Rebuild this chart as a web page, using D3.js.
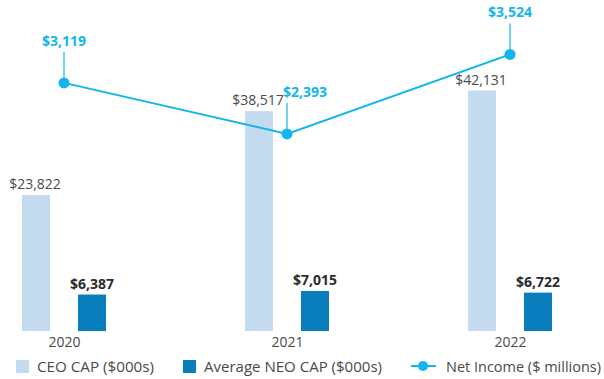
<!DOCTYPE html>
<html>
<head>
<meta charset="utf-8">
<script src="https://cdn.jsdelivr.net/npm/d3@7"></script>
<style>
  body { margin: 0; background: #fff; }
  svg { display: block; font-family: "Open Sans", sans-serif; }
</style>
</head>
<body>
<svg id="chart" width="604" height="379"></svg>
<script>
// Compensation actually paid vs. net income
const years = ["2020", "2021", "2022"];
const ceoCap = [23822, 38517, 42131];      // $000s
const neoCap = [6387, 7015, 6722];         // $000s
const netIncome = [3119, 2393, 3524];      // $ millions
const ceoLabels = ["$23,822", "$38,517", "$42,131"];
const neoLabels = ["$6,387", "$7,015", "$6,722"];
const niLabels = ["$3,119", "$2,393", "$3,524"];
const legendItems = ["CEO CAP ($000s)", "Average NEO CAP ($000s)", "Net Income ($ millions)"];

const colors = { ceo: "#c4dbef", neo: "#0a7dbc", ni: "#13b6ec", text: "#4a4a4a", bold: "#2b2b2b" };

const svg = d3.select("#chart");
const baseline = 331;

// group positions along x
const x = d3.scalePoint().domain(years).range([64, 510]);
// bar heights (compensation) share one scale
const yBar = d3.scaleLinear().domain([0, 50000]).range([baseline, baseline - 285.4]);
// net income on its own scale
const yNi = d3.scaleLinear().domain([0, 4000]).range([302, 21]);

const barW = 28, barOff = 28;

// CEO bars
svg.selectAll("rect.ceo").data(ceoCap).join("rect")
  .attr("class", "ceo")
  .attr("x", (d, i) => x(years[i]) - barOff - barW / 2)
  .attr("y", d => yBar(d))
  .attr("width", barW)
  .attr("height", d => baseline - yBar(d))
  .attr("fill", colors.ceo);

// NEO bars
svg.selectAll("rect.neo").data(neoCap).join("rect")
  .attr("class", "neo")
  .attr("x", (d, i) => x(years[i]) + barOff - barW / 2)
  .attr("y", d => yBar(d))
  .attr("width", barW)
  .attr("height", d => baseline - yBar(d))
  .attr("fill", colors.neo);

// CEO value labels
svg.selectAll("text.ceoLab").data(ceoCap).join("text")
  .attr("class", "ceoLab")
  .attr("x", (d, i) => x(years[i]) - barOff - 1)
  .attr("y", d => yBar(d) - 6)
  .attr("text-anchor", "middle")
  .attr("font-size", 14)
  .attr("fill", colors.text)
  .text((d, i) => ceoLabels[i]);

// NEO value labels
svg.selectAll("text.neoLab").data(neoCap).join("text")
  .attr("class", "neoLab")
  .attr("x", (d, i) => x(years[i]) + barOff)
  .attr("y", d => yBar(d) - 6)
  .attr("text-anchor", "middle")
  .attr("font-size", 14)
  .attr("font-weight", "bold")
  .attr("fill", colors.bold)
  .text((d, i) => neoLabels[i]);

// year axis labels
const xAxis = d3.axisBottom(x).tickSize(0).tickPadding(6);
const axisG = svg.append("g").attr("transform", `translate(0,${baseline})`).call(xAxis);
axisG.select(".domain").remove();
axisG.selectAll("text").attr("font-size", 14).attr("fill", colors.text)
  .attr("font-family", "Open Sans, sans-serif");

// net income line
const line = d3.line().x((d, i) => x(years[i])).y(d => yNi(d));
svg.append("path").datum(netIncome)
  .attr("d", line)
  .attr("fill", "none")
  .attr("stroke", colors.ni)
  .attr("stroke-width", 2);

// leader lines and labels above each point
const labelDx = [0, 18, 0];
svg.selectAll("line.lead").data(netIncome).join("line")
  .attr("class", "lead")
  .attr("x1", (d, i) => x(years[i]))
  .attr("x2", (d, i) => x(years[i]))
  .attr("y1", d => yNi(d))
  .attr("y2", d => yNi(d) - 31)
  .attr("stroke", colors.ni)
  .attr("stroke-width", 1.2);

svg.selectAll("circle.pt").data(netIncome).join("circle")
  .attr("class", "pt")
  .attr("cx", (d, i) => x(years[i]))
  .attr("cy", d => yNi(d))
  .attr("r", 5.5)
  .attr("fill", colors.ni);

svg.selectAll("text.niLab").data(netIncome).join("text")
  .attr("class", "niLab")
  .attr("x", (d, i) => x(years[i]) + labelDx[i])
  .attr("y", d => yNi(d) - 37)
  .attr("text-anchor", "middle")
  .attr("font-size", 14)
  .attr("font-weight", "bold")
  .attr("fill", colors.ni)
  .text((d, i) => niLabels[i]);

// legend
const legendPos = [
  { sx: 16, tx: 37, len: 117, fill: colors.ceo },
  { sx: 183, tx: 204, len: 178, fill: colors.neo },
  { sx: null, tx: 446, len: 155, fill: null }
];
const lg = svg.append("g").attr("transform", "translate(0,366)");
legendPos.forEach((p, i) => {
  if (p.fill) {
    lg.append("rect").attr("x", p.sx).attr("y", -6).attr("width", 13).attr("height", 13).attr("fill", p.fill);
  }
  lg.append("text").attr("x", p.tx).attr("y", 6).attr("font-size", 14.5)
    .attr("fill", colors.text)
    .attr("textLength", p.len).attr("lengthAdjust", "spacingAndGlyphs")
    .text(legendItems[i]);
});
lg.append("line").attr("x1", 411).attr("x2", 436).attr("y1", 0).attr("y2", 0).attr("stroke", colors.ni).attr("stroke-width", 2);
lg.append("circle").attr("cx", 423).attr("cy", 0).attr("r", 5).attr("fill", colors.ni);
</script>
</body>
</html>
